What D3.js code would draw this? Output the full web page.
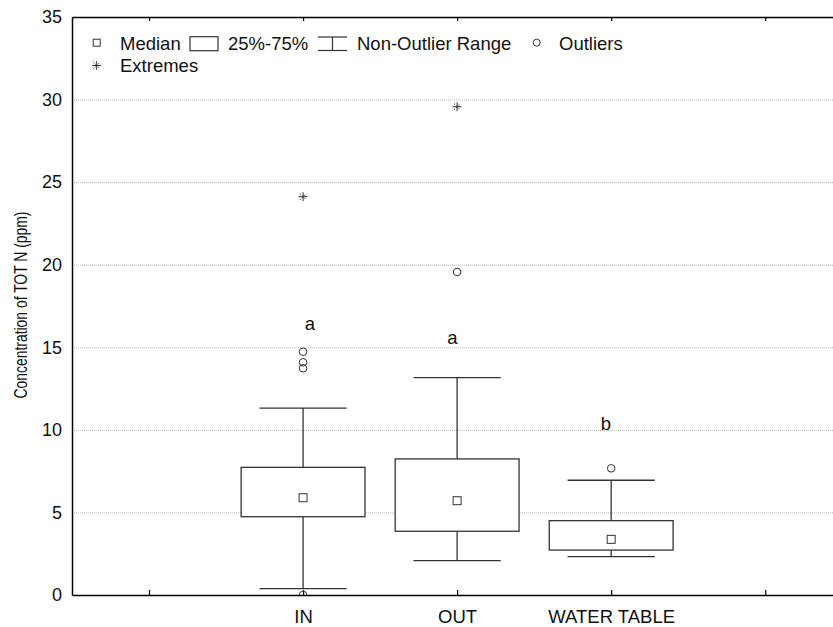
<!DOCTYPE html>
<html>
<head>
<meta charset="utf-8">
<script src="https://cdn.jsdelivr.net/npm/d3@7/dist/d3.min.js"></script>
<style>
  html, body { margin: 0; padding: 0; background: #fff; }
  svg { display: block; }
  text { font-family: "Liberation Sans", Arial, Helvetica, sans-serif; fill: #111; }
</style>
</head>
<body>
<svg id="chart" width="833" height="627"></svg>
<script>
// ---- data ----
const tickLabels = ["", "IN", "OUT", "WATER TABLE", ""];
const groups = ["IN", "OUT", "WATER TABLE"];
const groupPos = [1, 2, 3];
const q1 = [4.74, 3.86, 2.72];
const medians = [5.89, 5.71, 3.37];
const q3 = [7.73, 8.24, 4.50];
const whiskerLow = [0.38, 2.08, 2.32];
const whiskerHigh = [11.32, 13.16, 6.95];
const outliers = [[0.0, 13.73, 14.09, 14.73], [19.56], [7.67]];
const extremes = [[24.12], [29.57], []];
const letters = ["a", "a", "b"];
const letterPos = [1.045, 1.97, 2.965];
const letterVal = [16.05, 15.18, 10.0];
const yTicks = [0, 5, 10, 15, 20, 25, 30, 35];
const yTitle = "Concentration of TOT N (ppm)";
const legendRow1 = ["Median", "25%-75%", "Non-Outlier Range", "Outliers"];
const legendRow2 = ["Extremes"];

(function () {
// ---- layout ----
const svg = d3.select("#chart");
const W = 833, H = 627;
const pLeft = 72, pRight = 833, pTop = 17, pBottom = 595;
svg.append("rect").attr("width", W).attr("height", H).attr("fill", "#fff");

const x = d3.scaleLinear().domain([-0.5, 4.44]).range([pLeft, pRight]);
const y = d3.scaleLinear().domain([0, 35]).range([pBottom, pTop]);
const unit = x(1) - x(0);
const boxHalf = unit * 0.402;
const capHalf = unit * 0.283;
const stroke = "#333";
const fs = "18.5px";

svg.append("clipPath").attr("id", "plotclip")
  .append("rect").attr("x", pLeft).attr("y", pTop).attr("width", pRight - pLeft).attr("height", pBottom - pTop);

// grid lines
svg.append("g").selectAll("line").data(yTicks.filter(v => v > 0 && v < 35)).join("line")
  .attr("x1", pLeft).attr("x2", pRight)
  .attr("y1", d => y(d) + 0.5).attr("y2", d => y(d) + 0.5)
  .attr("stroke", "#b4b4b4").attr("stroke-width", 1).attr("stroke-dasharray", "1,1");

// y axis
const yAxis = svg.append("g").attr("transform", `translate(${pLeft},0)`)
  .call(d3.axisLeft(y).tickValues(yTicks).tickSize(0).tickPadding(10).tickFormat(d3.format("d")));
yAxis.select(".domain").attr("stroke", "#000").attr("stroke-width", 1.5);
yAxis.selectAll("text").style("font-size", "18px").attr("fill", "#111");

// bottom axis
const xAxis = svg.append("g").attr("transform", `translate(0,${pBottom})`)
  .call(d3.axisBottom(x).tickValues([0, 1, 2, 3, 4]).tickSizeInner(-5).tickSizeOuter(0)
    .tickFormat(i => tickLabels[i]));
xAxis.select(".domain").attr("stroke", "#000").attr("stroke-width", 1.5);
xAxis.selectAll(".tick line").attr("stroke", "#000").attr("stroke-width", 1.2);
xAxis.selectAll("text").style("font-size", fs).attr("y", 28).attr("dy", 0).attr("fill", "#111");

// top axis
const tAxis = svg.append("g").attr("transform", `translate(0,${pTop})`)
  .call(d3.axisTop(x).tickValues([0, 1, 2, 3, 4]).tickSizeInner(-4).tickSizeOuter(0).tickFormat(""));
tAxis.select(".domain").attr("stroke", "#000").attr("stroke-width", 1.5);
tAxis.selectAll(".tick line").attr("stroke", "#000").attr("stroke-width", 1.2);

// y title
svg.append("text")
  .attr("transform", `translate(27,305) rotate(-90)`)
  .attr("text-anchor", "middle")
  .attr("textLength", 187)
  .attr("lengthAdjust", "spacingAndGlyphs")
  .style("font-size", "18px")
  .text(yTitle);

function drawExtreme(sel, cx, cy) {
  const r = 4.5, d = 3.2;
  const p = sel.append("g").attr("stroke", stroke).attr("stroke-width", 1);
  p.append("line").attr("x1", cx - r).attr("x2", cx + r).attr("y1", cy).attr("y2", cy);
  p.append("line").attr("x1", cx).attr("x2", cx).attr("y1", cy - r).attr("y2", cy + r);
  p.append("line").attr("x1", cx - d).attr("x2", cx + d).attr("y1", cy - d).attr("y2", cy + d).attr("stroke-dasharray", "1.6,1.4");
  p.append("line").attr("x1", cx - d).attr("x2", cx + d).attr("y1", cy + d).attr("y2", cy - d).attr("stroke-dasharray", "1.6,1.4");
}

// boxes
const g = svg.append("g").attr("clip-path", "url(#plotclip)");
groups.forEach((name, i) => {
  const cx = x(groupPos[i]);
  g.append("line").attr("x1", cx).attr("x2", cx)
    .attr("y1", y(whiskerHigh[i])).attr("y2", y(q3[i]))
    .attr("stroke", stroke).attr("stroke-width", 1.3);
  g.append("line").attr("x1", cx).attr("x2", cx)
    .attr("y1", y(q1[i])).attr("y2", y(whiskerLow[i]))
    .attr("stroke", stroke).attr("stroke-width", 1.3);
  [whiskerHigh[i], whiskerLow[i]].forEach(v => {
    g.append("line").attr("x1", cx - capHalf).attr("x2", cx + capHalf)
      .attr("y1", y(v)).attr("y2", y(v))
      .attr("stroke", stroke).attr("stroke-width", 1.3);
  });
  g.append("rect").attr("x", cx - boxHalf).attr("y", y(q3[i]))
    .attr("width", boxHalf * 2).attr("height", y(q1[i]) - y(q3[i]))
    .attr("fill", "#fff").attr("stroke", stroke).attr("stroke-width", 1.3);
  g.append("rect").attr("x", cx - 4).attr("y", y(medians[i]) - 4)
    .attr("width", 8).attr("height", 8)
    .attr("fill", "#fff").attr("stroke", stroke).attr("stroke-width", 1);
  outliers[i].forEach(v => {
    g.append("circle").attr("cx", cx).attr("cy", y(v)).attr("r", 3.8)
      .attr("fill", "none").attr("stroke", stroke).attr("stroke-width", 1);
  });
  extremes[i].forEach(v => drawExtreme(g, cx, y(v)));
  svg.append("text").attr("x", x(letterPos[i])).attr("y", y(letterVal[i]))
    .attr("text-anchor", "middle").style("font-size", fs).text(letters[i]);
});

// legend
const lg = svg.append("g");
lg.append("rect").attr("x", 93.2).attr("y", 39.2).attr("width", 7).attr("height", 7)
  .attr("fill", "#fff").attr("stroke", stroke).attr("stroke-width", 1);
lg.append("text").attr("x", 120).attr("y", 49.5).style("font-size", fs).text(legendRow1[0]);
lg.append("rect").attr("x", 190).attr("y", 36.7).attr("width", 28).attr("height", 14)
  .attr("fill", "#fff").attr("stroke", stroke).attr("stroke-width", 1.2);
lg.append("text").attr("x", 228).attr("y", 49.5).style("font-size", fs).text(legendRow1[1]);
const wk = lg.append("g").attr("stroke", stroke).attr("stroke-width", 1.2);
wk.append("line").attr("x1", 318).attr("x2", 347).attr("y1", 37).attr("y2", 37);
wk.append("line").attr("x1", 318).attr("x2", 347).attr("y1", 50.5).attr("y2", 50.5);
wk.append("line").attr("x1", 332.5).attr("x2", 332.5).attr("y1", 37).attr("y2", 50.5);
lg.append("text").attr("x", 357).attr("y", 49.5).style("font-size", fs).text(legendRow1[2]);
lg.append("circle").attr("cx", 536.7).attr("cy", 42.7).attr("r", 3.5)
  .attr("fill", "none").attr("stroke", stroke).attr("stroke-width", 1);
lg.append("text").attr("x", 559).attr("y", 49.5).style("font-size", fs).text(legendRow1[3]);
drawExtreme(lg, 96.7, 65.5);
lg.append("text").attr("x", 120).attr("y", 72).style("font-size", fs).text(legendRow2[0]);
})();
</script>
</body>
</html>
